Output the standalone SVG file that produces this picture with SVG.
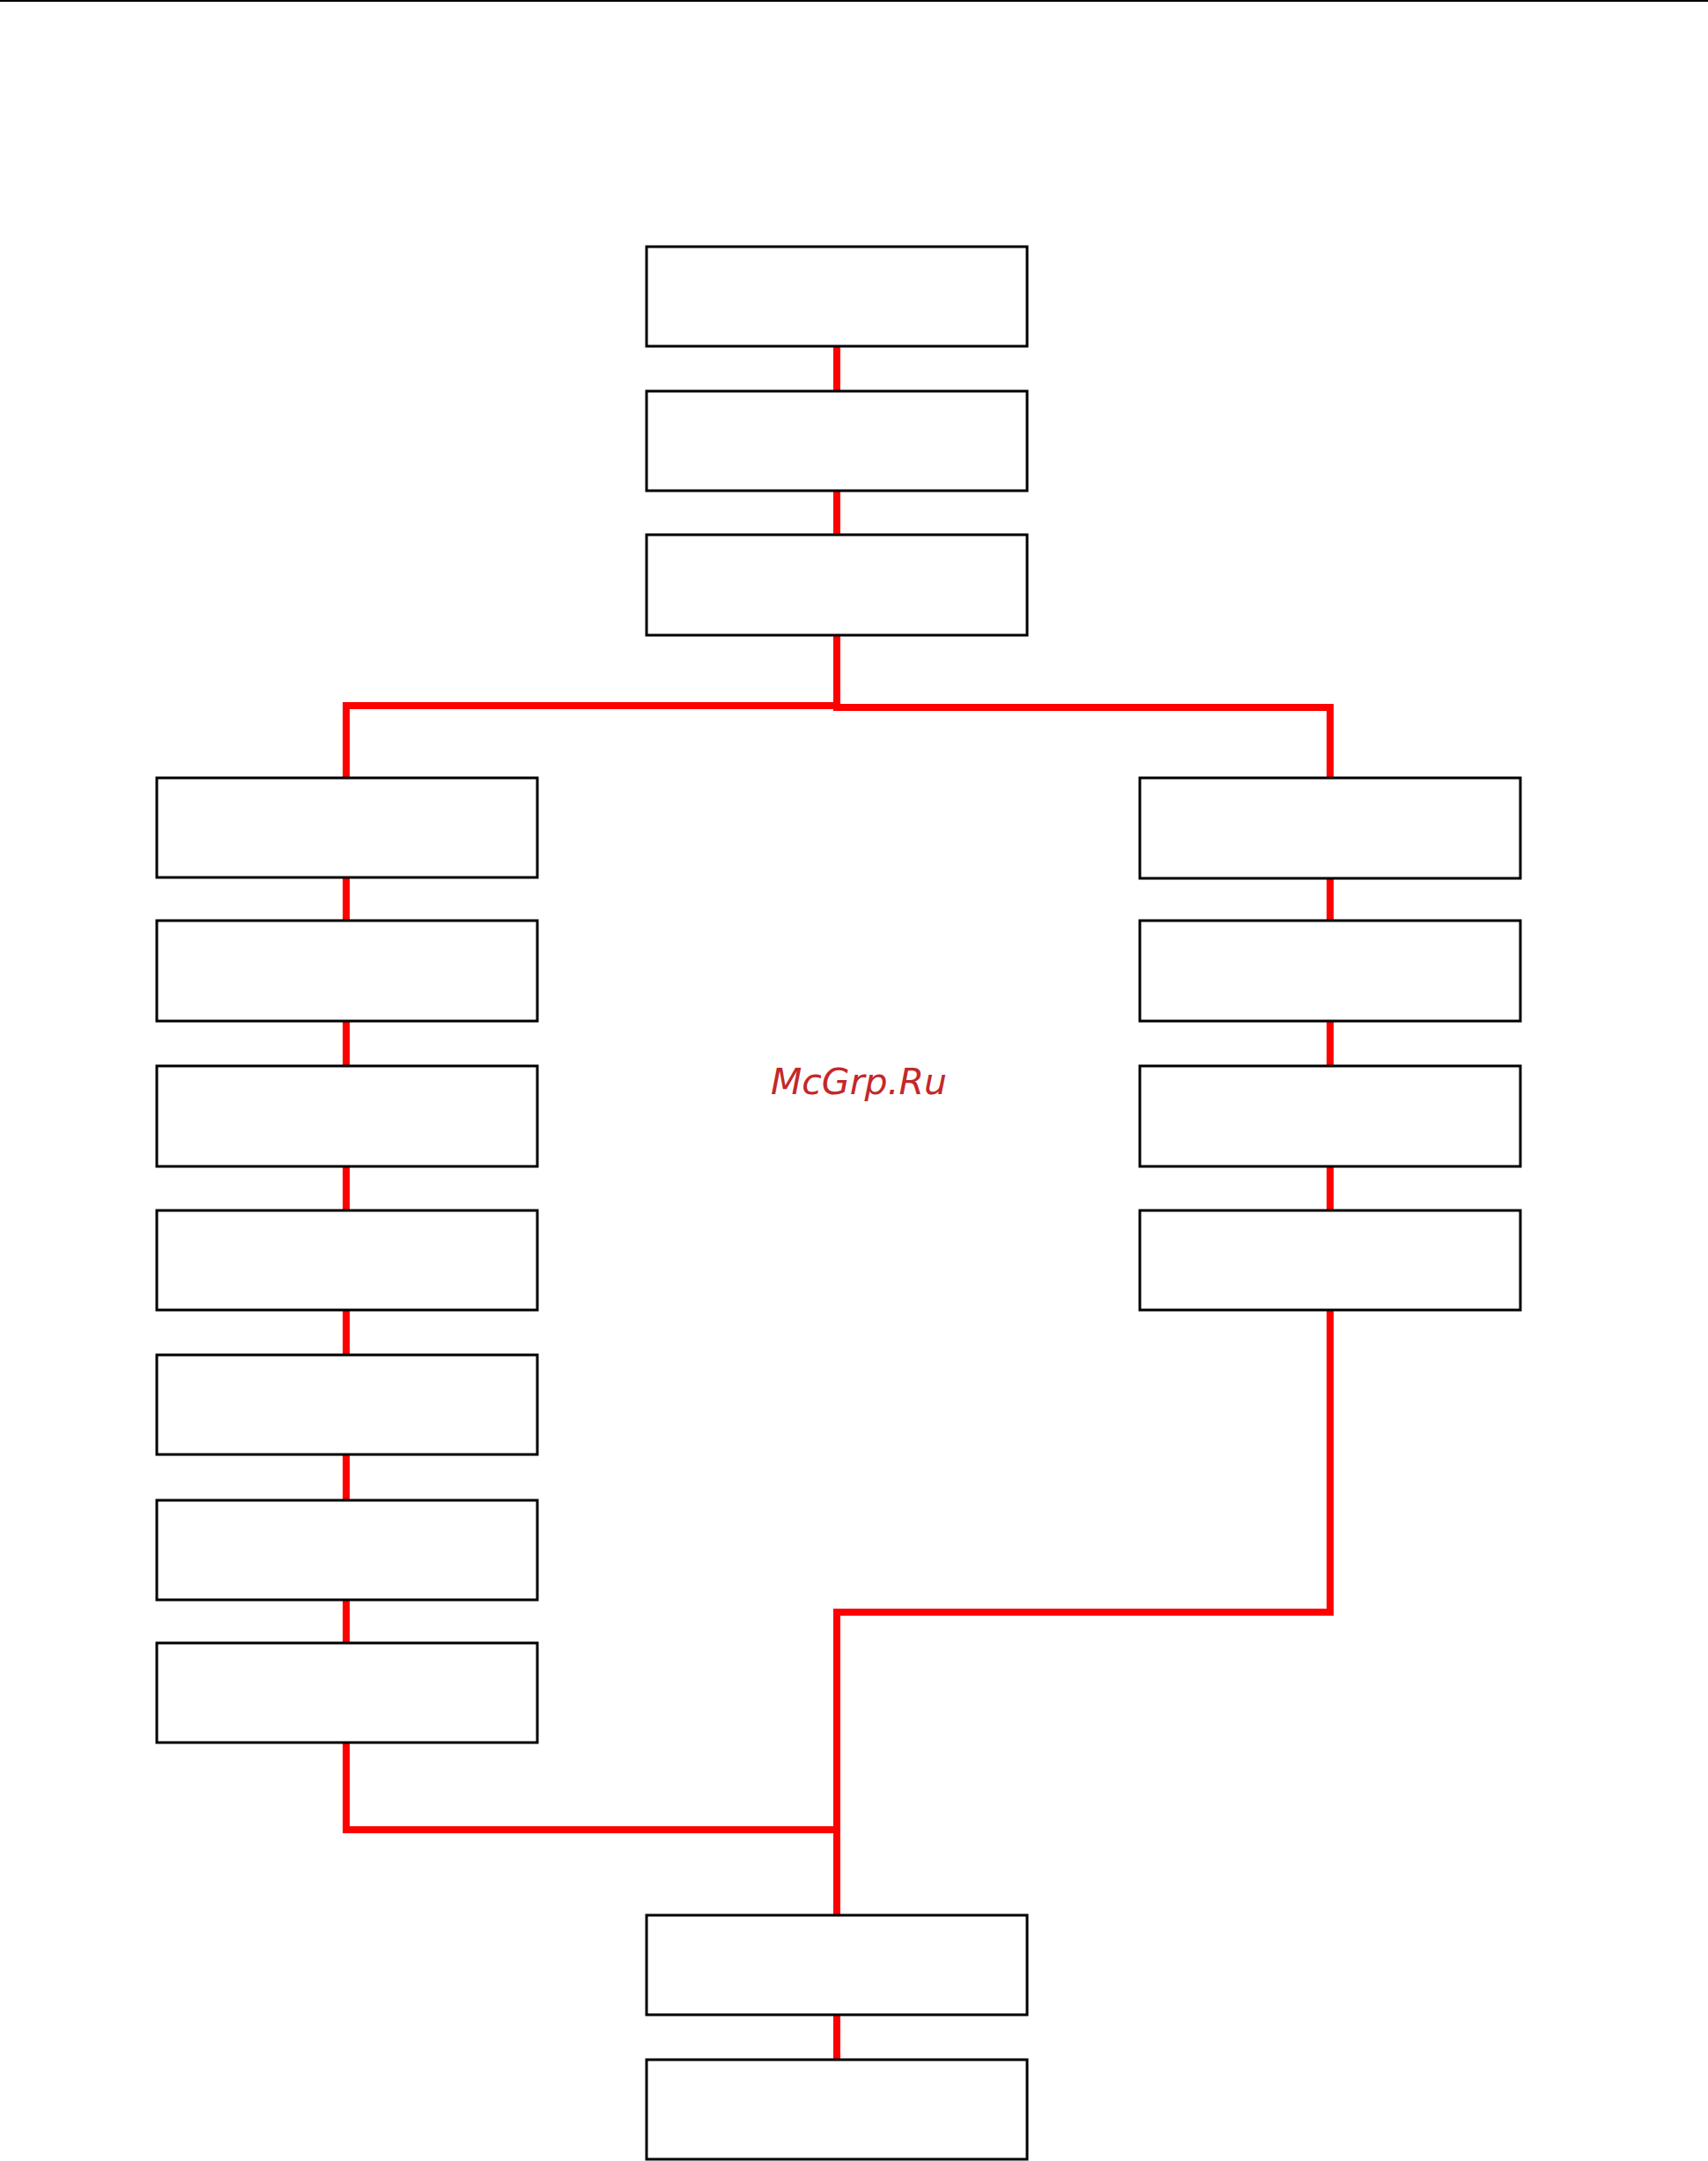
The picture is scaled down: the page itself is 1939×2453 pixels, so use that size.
<svg xmlns="http://www.w3.org/2000/svg" width="1939" height="2453" viewBox="0 0 1939 2453">
<style>
.b{fill:#fff;stroke:#000;stroke-width:3}
.c{fill:none;stroke:#f00;stroke-width:8}
</style>
<rect width="1939" height="2453" fill="#fff"/>
<line x1="0" y1="1" x2="1939" y2="1" stroke="#000" stroke-width="2"/>
<g id="connectors" class="c">
<path d="M950 393V444M950 557V607M950 721V801M393 883V801H950V803H1510V883"/>
<path d="M393 996V1045M393 1158V1210M393 1323V1374M393 1487V1538M393 1651V1703M393 1816V1865"/>
<path d="M1510 996V1045M1510 1158V1210M1510 1323V1374"/>
<path d="M1510 1487V1830H950V2174M393 1978V2077H950M950 2287V2338"/>
</g>
<g id="n1"><rect class="b" x="734" y="280" width="432" height="113"/></g>
<g id="n2"><rect class="b" x="734" y="444" width="432" height="113"/></g>
<g id="n3"><rect class="b" x="734" y="607" width="432" height="114"/></g>
<g id="l1"><rect class="b" x="178" y="883" width="432" height="113"/></g>
<g id="l2"><rect class="b" x="178" y="1045" width="432" height="114"/></g>
<g id="l3"><rect class="b" x="178" y="1210" width="432" height="114"/></g>
<g id="l4"><rect class="b" x="178" y="1374" width="432" height="113"/></g>
<g id="l5"><rect class="b" x="178" y="1538" width="432" height="113"/></g>
<g id="l6"><rect class="b" x="178" y="1703" width="432" height="113"/></g>
<g id="l7"><rect class="b" x="178" y="1865" width="432" height="113"/></g>
<g id="r1"><rect class="b" x="1294" y="883" width="432" height="114"/></g>
<g id="r2"><rect class="b" x="1294" y="1045" width="432" height="114"/></g>
<g id="r3"><rect class="b" x="1294" y="1210" width="432" height="114"/></g>
<g id="r4"><rect class="b" x="1294" y="1374" width="432" height="113"/></g>
<g id="b1"><rect class="b" x="734" y="2174" width="432" height="113"/></g>
<g id="b2"><rect class="b" x="734" y="2338" width="432" height="113"/></g>
<text x="975" y="1242" text-anchor="middle" font-family="DejaVu Sans, sans-serif" font-style="italic" font-size="41" fill="#c4282a">McGrp.Ru</text>
</svg>
